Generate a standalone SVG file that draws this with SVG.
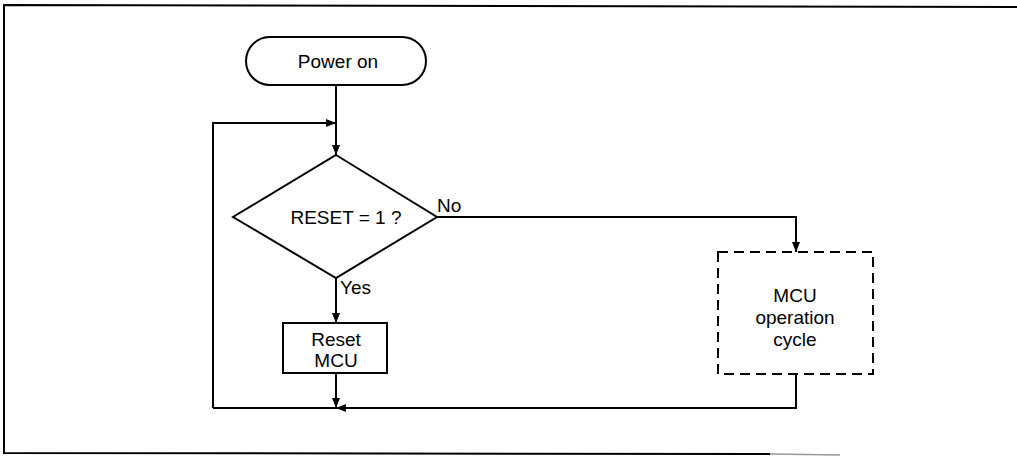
<svg xmlns="http://www.w3.org/2000/svg" width="1017" height="456" viewBox="0 0 1017 456">
<defs>
<marker id="arr" viewBox="0 0 10 8" refX="10" refY="4" markerWidth="10" markerHeight="8" markerUnits="userSpaceOnUse" orient="auto">
<path d="M0,0 L10,4 L0,8 Z" fill="#000"/>
</marker>
<style>
.s{fill:none;stroke:#000;stroke-width:2}
.n{fill:#fff;stroke:#000;stroke-width:2}
.d{fill:#fff;stroke:#000;stroke-width:2;stroke-dasharray:10 6}
text{font-family:"Liberation Sans",Arial,sans-serif;font-size:19px;fill:#000}
.c{text-anchor:middle}
</style>
</defs>
<rect width="1017" height="456" fill="#fff"/>
<g id="frame">
<path class="s" d="M1017,7 L4,5 L4,453 L770,454"/>
<path d="M770,454 L840,455" stroke="#999" stroke-width="1.5" fill="none"/>
</g>
<g id="connectors">
<path class="s" d="M336,85 L336,155" marker-end="url(#arr)"/>
<path class="s" d="M213,408 L213,123 L336,123" marker-end="url(#arr)"/>
<path class="s" d="M336,278 L336,323" marker-end="url(#arr)"/>
<path class="s" d="M437,217 L796,217 L796,252" marker-end="url(#arr)"/>
<path class="s" d="M336,373 L336,408" marker-end="url(#arr)"/>
<path class="s" d="M796,374 L796,408 L336,408" marker-end="url(#arr)"/>
<path class="s" d="M336,408 L213,408"/>
</g>
<g id="power-on">
<rect class="n" x="246" y="37" width="180" height="48" rx="24" ry="24"/>
<text class="c" x="338" y="68">Power on</text>
</g>
<g id="decision">
<polygon class="n" points="336,155 437,217 336,278 233,217"/>
<text class="c" x="346" y="224">RESET = 1 ?</text>
<text x="437" y="212">No</text>
<text x="340" y="294">Yes</text>
</g>
<g id="reset-mcu">
<rect class="n" x="283" y="323" width="104" height="50"/>
<text class="c" x="336" y="346">Reset</text>
<text class="c" x="336" y="367">MCU</text>
</g>
<g id="mcu-cycle">
<rect class="d" x="718" y="252" width="155" height="122"/>
<text class="c" x="795" y="302">MCU</text>
<text class="c" x="795" y="324">operation</text>
<text class="c" x="795" y="346">cycle</text>
</g>
</svg>
